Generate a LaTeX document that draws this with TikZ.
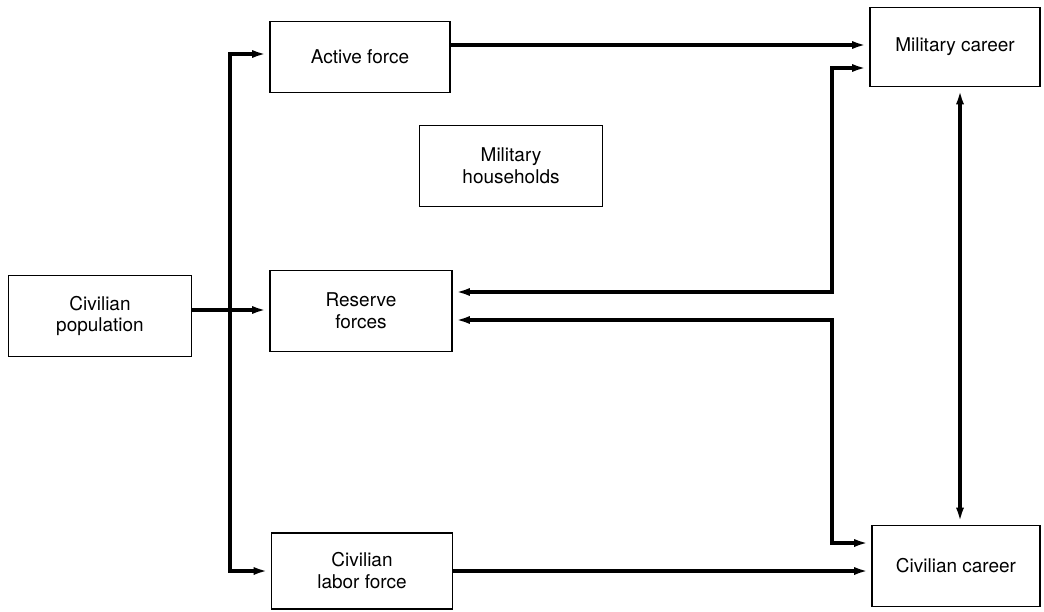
\documentclass[tikz,border=0pt]{standalone}
\usepackage{fontspec}
\setmainfont{TeX Gyre Heros}
\usetikzlibrary{arrows.meta}
\newlength\px
\setlength\px{0.025cm}
\begin{document}
\begin{tikzpicture}[x=1\px, y=-1\px,
		box/.style={draw, line width=1.4pt, align=center, inner sep=0pt, font=\fontsize{13.5}{15.6}\selectfont},
		flow/.style={line width=3.5pt, -{Latex[length=12pt,width=5.5pt]}},
		dflow/.style={line width=3.5pt, {Latex[length=12pt,width=5.5pt]}-{Latex[length=12pt,width=5.5pt]}}]
		\useasboundingbox (0,0) rectangle (1044,611);

		\node[box, minimum width=183\px, minimum height=81\px] (civpop) at (100,316) {Civilian\\population};
		\node[box, minimum width=180\px, minimum height=71\px] (active) at (360,57) {Active force};
		\node[box, minimum width=183\px, minimum height=81\px] (milhh) at (511,166) {Military\\households};
		\node[box, minimum width=182\px, minimum height=81\px] (reserve) at (361,311) {Reserve\\forces};
		\node[box, minimum width=181\px, minimum height=76\px] (civlab) at (362,571) {Civilian\\labor force};
		\node[box, minimum width=170\px, minimum height=79\px] (milcar) at (955,47) {Military career};
		\node[box, minimum width=168\px, minimum height=81\px] (civcar) at (956,566) {Civilian career};

		\coordinate (spine) at (230,310);
		\draw[flow] ([yshift=6\px]civpop.east) -- ([yshift=6\px]civpop.east -| reserve.west);
		\draw[flow] (spine) |- ([yshift=3\px]active.west);
		\draw[flow] (spine) |- (civlab.west);

		\draw[flow] ([yshift=2\px]active.east |- milcar.west) -- ([yshift=2\px]milcar.west);
		\draw[flow] (civlab.east) -- (civlab.east -| civcar.west);

		\draw[dflow] ([yshift=19\px]reserve.east) -| ([xshift=-37\px,yshift=-21\px]milcar.west) -- ([yshift=-21\px]milcar.west);
		\draw[dflow] ([yshift=-9\px]reserve.east) -| ([xshift=-39\px,yshift=23\px]civcar.west) -- ([yshift=23\px]civcar.west);

		\draw[dflow] ([xshift=5\px]milcar.south) -- ([xshift=5\px]milcar.south |- civcar.north);
	\end{tikzpicture}
\end{document}
